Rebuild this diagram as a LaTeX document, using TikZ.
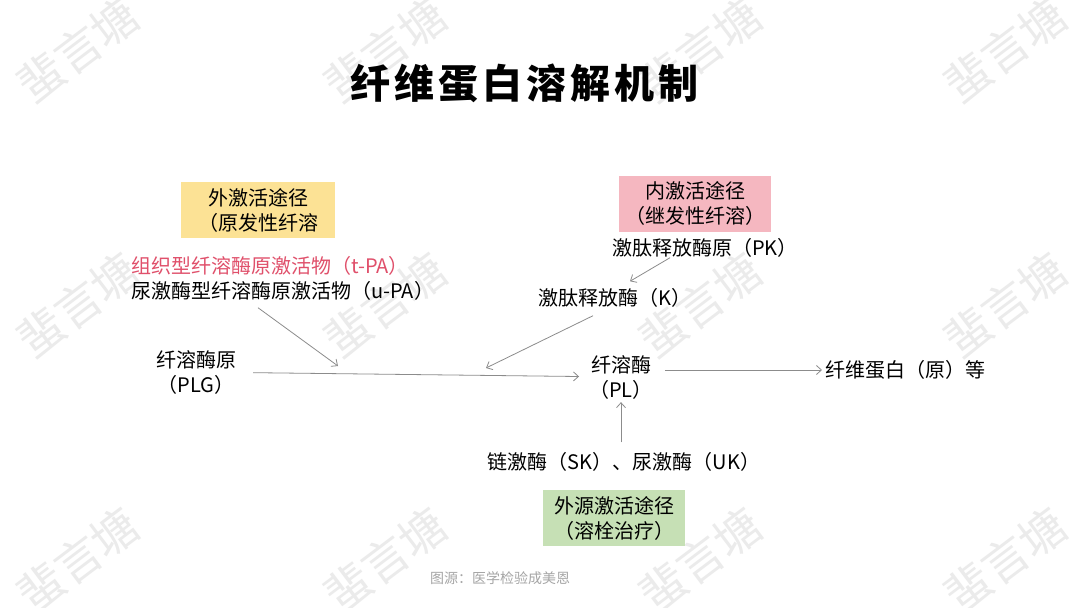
\documentclass[tikz,border=0pt]{standalone}
\usepackage{fontspec}
\setmainfont{Noto Sans CJK SC}
\usetikzlibrary{arrows.meta}
\definecolor{boxyellow}{HTML}{FCE295}
\definecolor{boxpink}{HTML}{F5B7C0}
\definecolor{boxgreen}{HTML}{C6E0B5}
\definecolor{tpared}{HTML}{E0506B}
\definecolor{arrowgray}{HTML}{8C8C8C}
\definecolor{wmgray}{HTML}{EBEBEB}
\definecolor{srcgray}{HTML}{A6A6A6}
\tikzset{
  txt/.style={font=\fontsize{20}{25}\selectfont, inner sep=0pt, align=center},
  pathbox/.style={txt, minimum height=56pt},
  conn/.style={draw=arrowgray, line width=0.8pt, -{Straight Barb[length=5pt,width=9pt]}},
  wm/.style={font=\fontsize{46}{46}\selectfont, text=wmgray, rotate=37, inner sep=0pt},
}
\begin{document}
\begin{tikzpicture}[x=1pt,y=-1pt]
\useasboundingbox[fill=white] (0,0) rectangle (1080,608);
% watermarks
\foreach \wx in {78,385,700,1005}{
  \foreach \wy in {50,305,560}{
    \node[wm] at (\wx,\wy) {蜚言塘};
  }
}
% title
\node[font=\fontsize{40}{48}\selectfont\bfseries\addfontfeature{LetterSpace=10}, inner sep=0pt] (title) at (524,83) {纤维蛋白溶解机制};
% pathway boxes
\node[pathbox, fill=boxyellow, minimum width=154pt] (ext) at (258,210) {外激活途径\\（原发性纤溶};
\node[pathbox, fill=boxpink, minimum width=152pt] (int) at (695,203.5) {内激活途径\\（继发性纤溶）};
\node[pathbox, fill=boxgreen, minimum width=142pt] (exo) at (614,518) {外源激活途径\\（溶栓治疗）};
% substances
\node[txt] (pk) at (705,248) {激肽释放酶原（PK）};
\node[txt] (k) at (615,298) {激肽释放酶（K）};
\node[txt, text=tpared, anchor=west] (tpa) at (131,266) {组织型纤溶酶原激活物（t-PA）};
\node[txt, anchor=west] (upa) at (131,291) {尿激酶型纤溶酶原激活物（u-PA）};
\node[txt] (plg) at (196,372) {纤溶酶原\\（PLG）};
\node[txt] (pl) at (621,377) {纤溶酶\\（PL）};
\node[txt, anchor=west] (fib) at (825,370) {纤维蛋白（原）等};
\node[txt] (skuk) at (624,462) {链激酶（SK）、尿激酶（UK）};
\node[font=\fontsize{14}{16}\selectfont, text=srcgray, inner sep=0pt] (src) at (500,578) {图源：医学检验成美恩};
% arrow targets on the main line
\coordinate (m1) at (338,366);
\coordinate (m2) at (486,368);
% connectors
\draw[conn, shorten <=17pt, shorten >=10pt] (plg) -- (pl);
\draw[conn] ([xshift=127pt,yshift=-7pt]upa.south west) -- (m1);
\draw[conn] ([xshift=-35pt]pk.south) -- ([xshift=15pt,yshift=7pt]k.north);
\draw[conn] ([xshift=-22pt,yshift=-8pt]k.south) -- (m2);
\draw[conn] ([xshift=12pt]pl.east |- fib.west) -- ([xshift=-3pt]fib.west);
\draw[conn] ([yshift=10pt]skuk.north -| pl.south) -- ([yshift=-3pt]pl.south);
\end{tikzpicture}
\end{document}
